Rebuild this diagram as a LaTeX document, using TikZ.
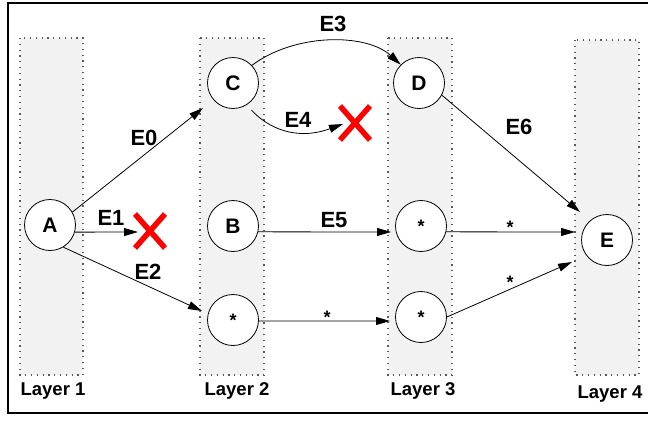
\documentclass[tikz,border=0pt]{standalone}
\usepackage{fontspec}
\setmainfont{Liberation Sans}
\usetikzlibrary{arrows.meta,calc}
\begin{document}
\begin{tikzpicture}[x=1pt,y=-1pt,
  layerbox/.style={fill=black!5, draw=black!65, line width=1.1pt, dash pattern=on 1.2pt off 4.6pt},
  vtx/.style={circle, draw, line width=0.8pt, minimum size=51pt, inner sep=0pt, fill=white, font=\bfseries\fontsize{21}{24}\selectfont},
  stx/.style={circle, draw, line width=0.8pt, minimum size=51pt, inner sep=0pt, fill=white, font=\bfseries\fontsize{18}{20}\selectfont},
  edge/.style={line width=0.8pt, -{Triangle[length=14pt,width=8pt]}},
  elab/.style={font=\bfseries\fontsize{22}{24}\selectfont, inner sep=0pt},
  slab/.style={font=\bfseries\fontsize{18}{20}\selectfont, inner sep=0pt, anchor=base},
  llab/.style={font=\bfseries\fontsize{18.5}{20}\selectfont, inner sep=0pt, anchor=base},
  cross/.style={draw=red, line width=5.5pt}
]
\useasboundingbox (0,0) rectangle (648,421);
% frame
\draw[line width=2.5pt] (8,3) rectangle (652,413);
% layers
\draw[layerbox] (20,38) rectangle (83,375);
\draw[layerbox] (200,38) rectangle (264,375);
\draw[layerbox] (388,38) rectangle (452,375);
\draw[layerbox] (575,40) rectangle (639,375);
\node[llab] (l1) at (53,395) {Layer 1};
\node[llab] (l2) at (237,395) {Layer 2};
\node[llab] (l3) at (423,395) {Layer 3};
\node[llab] (l4) at (610,398) {Layer 4};
% vertices
\node[vtx] (A) at (50,225) {A};
\node[vtx] (C) at (233,83) {C};
\node[vtx] (B) at (233,226) {B};
\node[stx] (S2) at (233,320) {*};
\node[vtx] (D) at (419,83) {D};
\node[stx] (S31) at (421,226) {*};
\node[stx] (S32) at (421,317) {*};
\node[vtx] (E) at (607,240) {E};
% free ends
\coordinate (t0) at (203,108);
\coordinate (t1) at (138,232);
\coordinate (t2) at (202,311);
\coordinate (t4) at (343,124);
\coordinate (t5) at (391,232);
\coordinate (t6) at (390,321);
\coordinate (t7) at (575,232);
\coordinate (t8) at (572,262);
\coordinate (t9) at (580,212);
% edges
\draw[edge] (A.30) -- (t0);
\draw[edge] (A.-16) -- (t1);
\draw[edge] (A.-59) -- (t2);
\draw[edge] (C.43) .. controls (295,33) and (366,33) .. (D.135);
\draw[edge, shorten <=7pt] (C.-58) .. controls (268,128) and (296,141) .. (t4);
\draw[edge] (B.-13) -- (t5);
\draw[edge] (S2.-2) -- (t6);
\draw[edge] (S31.-13) -- (t7);
\draw[edge] (S32.0) -- (t8);
\draw[edge] (D.-28) -- (t9);
% crosses
\coordinate (x1) at (150,231);
\coordinate (x2) at (355,123);
\draw[cross] ($(x1)+(-15,-17)$) -- ($(x1)+(15,17)$) ($(x1)+(15,-17)$) -- ($(x1)+(-15,17)$);
\draw[cross] ($(x2)+(-15,-17)$) -- ($(x2)+(15,17)$) ($(x2)+(15,-17)$) -- ($(x2)+(-15,17)$);
% labels
\node[elab] (le0) at (144,138) {E0};
\node[elab] (le1) at (111,218) {E1};
\node[elab] (le2) at (148,272) {E2};
\node[elab] (le3) at (333,24) {E3};
\node[elab] (le4) at (298,120) {E4};
\node[elab] (le5) at (334,220) {E5};
\node[elab] (le6) at (519,127) {E6};
\node[slab] (ls1) at (327,323.5) {*};
\node[slab] (ls2) at (510,233.5) {*};
\node[slab] (ls3) at (510,288.5) {*};
\end{tikzpicture}
\end{document}
